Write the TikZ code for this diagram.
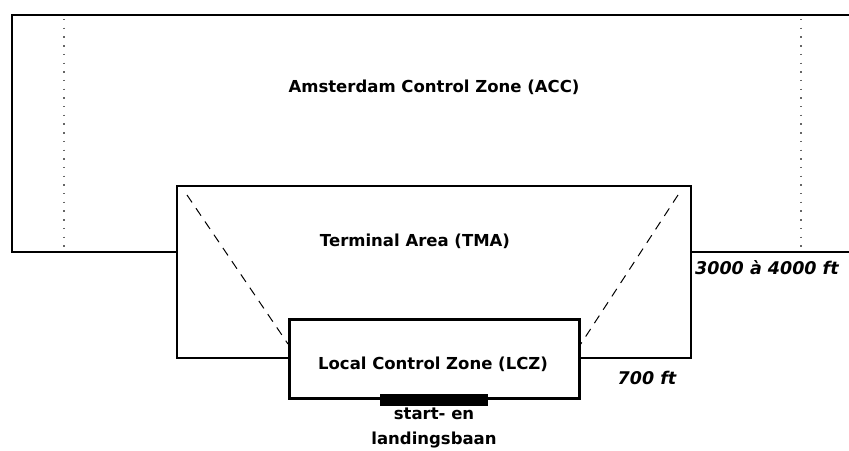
\documentclass[tikz,border=0pt]{standalone}
\usepackage{fontspec}
\setmainfont{DejaVu Sans}
\begin{document}
\begin{tikzpicture}[x=1pt,y=-1pt,
  wall/.style={line width=2.8pt, line join=miter},
  thin dots/.style={line width=1.4pt, dash pattern=on 1.4pt off 7.3pt, gray!80!black},
  guide/.style={line width=1pt, dash pattern=on 9pt off 7pt},
  lbl/.style={font=\fontsize{16.5}{18}\selectfont\bfseries, inner sep=0pt},
  dim/.style={font=\fontsize{17.5}{19}\selectfont\bfseries\itshape, inner sep=0pt}]
\useasboundingbox[fill=white] (0,0) rectangle (849,450);
% ACC outline
\coordinate (accTR) at (849,15);
\coordinate (accTL) at (12,15);
\coordinate (accBL) at (12,252);
\coordinate (tmaL) at (177,252);
\coordinate (tmaR) at (691,252);
\coordinate (accBR) at (849,252);
\draw[wall] (accTR) -- (accTL) -- (accBL) -- (tmaL);
\draw[wall] (tmaR) -- (accBR);
% dotted lines
\coordinate (d1t) at (64,19);  \coordinate (d1b) at (64,252);
\coordinate (d2t) at (801,19); \coordinate (d2b) at (801,252);
\draw[thin dots] (d1t) -- (d1b);
\draw[thin dots] (d2t) -- (d2b);
% TMA
\coordinate (tTL) at (177,186);
\coordinate (tTR) at (691,186);
\coordinate (tBL) at (177,358);
\coordinate (tBR) at (691,358);
\coordinate (lBLj) at (288,358);
\coordinate (lBRj) at (578,358);
\draw[wall] (lBLj) -- (tBL) -- (tTL) -- (tTR) -- (tBR) -- (lBRj);
% LCZ
\node[draw, line width=2.8pt, minimum width=290pt, minimum height=79pt, inner sep=0pt, anchor=north west] (lcz) at (288,318) {};
% dashed guides
\coordinate (g1) at (187,195);
\coordinate (g2) at (678,195);
\draw[guide] (g1) -- (lcz.west |- 0,344);
\draw[guide] (g2) -- (lcz.east |- 0,344);
% runway
\node[fill=black, minimum width=108pt, minimum height=12pt, inner sep=0pt] (rwy) at (lcz.south) {};
% labels
\node[lbl] (acc) at (434,87) {Amsterdam Control Zone (ACC)};
\node[lbl] (tma) at (415,241) {Terminal Area (TMA)};
\node[lbl] (lczl) at (433,364) {Local Control Zone (LCZ)};
\node[lbl, align=center, font=\fontsize{16.5}{25}\selectfont\bfseries] (rwyl) at (434,428) {start- en\\landingsbaan};
\node[dim, anchor=west] (h1) at (695,268) {3000 à 4000 ft};
\node[dim] (h2) at (647,378) {700 ft};
\end{tikzpicture}
\end{document}
